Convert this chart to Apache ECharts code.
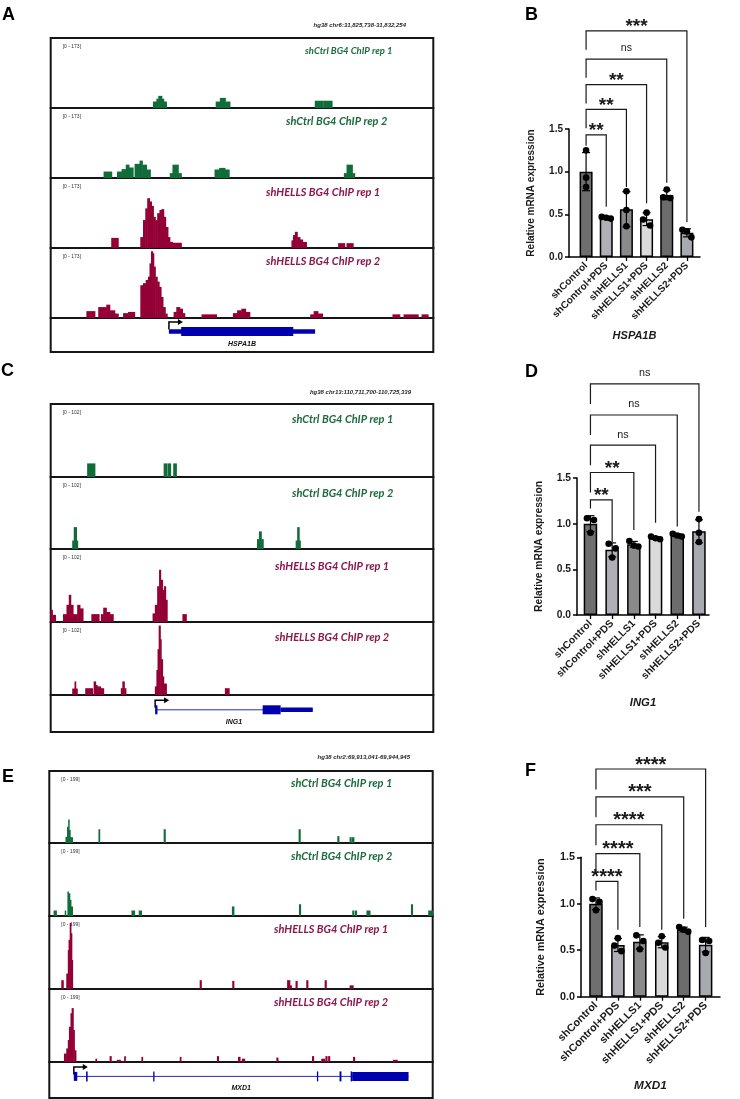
<!DOCTYPE html>
<html>
<head>
<meta charset="utf-8">
<script src="https://cdn.jsdelivr.net/npm/echarts@6/dist/echarts.min.js"></script>
<style>
html, body { margin: 0; padding: 0; background: #fff; }
#chart { width: 740px; height: 1099px; }
</style>
</head>
<body>
<div id="chart"></div>
<script>
// ---------- qPCR bar charts (B, D, F) ----------
const conditions = ['shControl', 'shControl+PDS', 'shHELLS1', 'shHELLS1+PDS', 'shHELLS2', 'shHELLS2+PDS'];
const yTicks = [0, 0.5, 1.0, 1.5];

// replicate values, one list per condition
const hspa1bReps = [[1.25, 0.93, 0.82], [0.47, 0.46, 0.45], [0.77, 0.55, 0.36], [0.52, 0.44, 0.37], [0.79, 0.70, 0.69], [0.32, 0.30, 0.23]];
const ing1Reps = [[1.06, 1.04, 0.90], [0.78, 0.73, 0.63], [0.81, 0.76, 0.75], [0.86, 0.84, 0.83], [0.89, 0.87, 0.86], [1.05, 0.90, 0.80]];
const mxd1Reps = [[1.05, 1.02, 0.93], [0.63, 0.55, 0.49], [0.66, 0.60, 0.51], [0.65, 0.58, 0.53], [0.75, 0.72, 0.70], [0.61, 0.60, 0.47]];

// shControl vs each other condition
const hspa1bSig = ['**', '**', '**', 'ns', '***'];
const ing1Sig = ['**', '**', 'ns', 'ns', 'ns'];
const mxd1Sig = ['****', '****', '****', '***', '****'];

// bracket heights and right-leg ends (in y units)
const hspa1bBracketY = [1.43, 1.73, 2.02, 2.32, 2.65];
const hspa1bBracketEnd = [0.59, 0.82, 0.63, 0.87, 0.41];
const ing1BracketY = [1.26, 1.56, 1.86, 2.19, 2.53];
const ing1BracketEnd = [0.80, 0.93, 1.01, 0.97, 1.13];
const mxd1BracketY = [1.24, 1.54, 1.85, 2.15, 2.45];
const mxd1BracketEnd = [0.72, 0.75, 0.72, 0.84, 0.75];

// ---------- BG4 ChIP coverage tracks (A, C, E) ----------
// each segment: [start %, end %, signal]
const hspa1bCtrl1 = [[26.8,27.7,16],[27.7,28.2,23],[28.2,29.1,30],[29.1,29.6,23],[29.6,30.3,16],
  [43.2,44.3,16],[44.3,45.7,25],[45.7,46.9,16],[69.1,71.3,18],[71.4,73.6,18]];
const hspa1bCtrl2 = [[13.9,16.0,16],[17.4,18.6,16],[18.6,19.7,22],[19.7,20.5,33],[20.5,21.6,26],
  [22.0,23.3,35],[23.3,24.0,43],[24.0,25.1,33],[25.1,26.1,21],[31.2,31.9,12],[31.9,33.4,33],[33.4,34.2,12],
  [42.9,44.1,21],[44.1,45.6,25],[45.6,46.7,21],[76.7,77.4,12],[77.4,78.9,33],[78.9,79.5,12]];
const hspa1bHells1 = [[15.9,17.7,25],
  [23.5,24.2,27],[24.2,24.8,69],[24.8,25.3,98],[25.3,25.9,123],[25.9,26.4,115],[26.4,26.9,104],
  [26.9,27.4,77],[27.4,27.9,69],[27.9,28.5,86],[28.5,29.0,94],[29.0,29.6,96],[29.6,30.1,77],
  [30.1,30.7,52],[30.7,31.2,27],[31.2,31.9,15],[31.9,34.2,13],
  [63.0,63.4,19],[63.4,63.9,32],[63.9,64.5,40],[64.5,65.2,27],[65.2,65.9,21],[65.9,66.9,15],
  [75.2,76.9,12],[77.4,79.1,12]];
const hspa1bHells2 = [[9.4,11.6,17],[12.5,14.6,27],[14.6,15.5,33],[15.5,16.8,19],[16.8,17.7,11],
  [19.0,20.3,12],[20.3,22.0,15],
  [23.5,24.2,81],[24.2,24.9,86],[24.9,25.5,94],[25.5,25.9,102],[25.9,26.3,135],[26.3,26.7,165],
  [26.7,27.0,160],[27.0,27.4,127],[27.4,27.9,102],[27.9,28.4,90],[28.4,28.9,77],[28.9,29.4,52],
  [29.4,30.0,27],[30.0,30.5,11],
  [32.2,32.9,15],[32.9,33.8,27],[33.8,34.5,23],[34.5,35.1,12],[39.5,43.4,9],
  [47.7,48.8,12],[48.8,49.9,19],[49.9,51.0,23],[51.0,52.1,15],
  [67.9,68.8,9],[68.8,69.9,17],[69.9,71.1,11],[89.4,91.3,9],[92.3,96.1,9],[97.0,98.7,9]];

const ing1Ctrl1 = [[9.6,10.5,19],[10.6,11.6,19],[29.6,30.4,19],[30.6,31.4,19],[32.1,32.9,19]];
const ing1Ctrl2 = [[5.7,6.1,12],[6.1,6.8,31],[6.8,7.1,12],[54.0,54.5,14],[54.5,55.1,25],[55.1,55.6,14],
  [64.1,64.5,12],[64.5,65.0,31],[65.0,65.3,12]];
const ing1Hells1 = [[0.0,0.5,17],[0.5,1.3,10],[3.3,4.2,11],[4.2,4.8,24],[4.8,5.3,38],[5.3,5.9,24],
  [5.9,7.0,11],[7.0,7.7,24],[7.7,8.5,19],[10.7,12.7,11],[13.2,13.8,11],[13.8,14.6,20],[14.6,15.5,14],
  [15.5,16.4,11],[26.7,27.3,12],[27.3,27.9,24],[27.9,28.4,50],[28.4,28.8,73],[28.8,29.3,59],
  [29.3,29.7,45],[29.7,30.1,50],[30.1,30.5,31],[34.5,35.5,11]];
const ing1Hells2 = [[5.7,6.3,9],[6.3,6.6,19],[6.6,7.0,9],[9.1,11.0,9.5],[11.3,11.8,19],[11.8,12.2,14],
  [12.2,13.1,12],[13.1,13.9,9.5],[18.4,18.8,9.5],[18.8,19.3,19],[19.3,19.7,9.5],
  [27.3,27.7,12],[27.7,28.0,35],[28.0,28.3,64],[28.3,28.7,97],[28.7,28.9,78],[28.9,29.3,50],
  [29.3,29.6,26],[29.6,30.3,16],[45.6,46.7,9.5]];

const mxd1Ctrl1 = [[4.3,4.7,17],[4.7,5.0,45],[5.0,5.2,65],[5.2,5.5,36],[5.5,6.1,16],[12.9,13.2,38],
  [29.9,30.3,38],[65.1,65.5,38],[75.2,75.6,19],[78.4,78.8,16],[79.0,79.5,16]];
const mxd1Ctrl2 = [[1.2,1.9,15],[4.1,4.3,15],[4.8,5.0,67],[5.0,5.4,62],[5.4,5.7,44],[5.7,6.1,26],
  [21.5,22.3,15],[23.4,24.1,15],[47.7,48.2,26],[65.2,65.6,32],[79.1,79.5,15],[79.8,80.2,15],
  [82.8,83.7,15],[94.4,94.8,32],[98.9,100,15]];
const mxd1Hells1 = [[3.2,3.7,24],[4.5,4.9,42],[4.9,5.1,106],[5.1,5.4,134],[5.4,5.7,180],[5.7,5.9,152],
  [5.9,6.1,79],[39.3,39.7,24],[47.8,48.2,22],[62.1,62.8,24],[62.8,63.2,10],[64.3,64.7,22],
  [67.1,67.5,24],[71.9,72.3,24],[78.4,79.3,10]];
const mxd1Hells2 = [[3.9,4.5,23],[4.5,4.9,37],[4.9,5.2,60],[5.2,5.6,96],[5.6,5.9,133],[5.9,6.3,147],
  [6.3,6.6,87],[6.6,7.0,32],[12.1,12.4,9],[15.8,16.2,16],[17.7,18.6,6],[19.6,19.9,16],[24.1,24.4,14],
  [34.1,34.4,14],[43.8,44.2,16],[49.3,49.8,14],[50.3,51.0,9],[59.3,59.7,12],[68.6,69.0,16],
  [71.0,71.9,9],[72.1,72.5,16],[72.8,73.2,16],[79.3,79.7,14],[89.7,90.8,6]];

const trackNames = ['shCtrl BG4 ChIP rep 1', 'shCtrl BG4 ChIP rep 2', 'shHELLS BG4 ChIP rep 1', 'shHELLS BG4 ChIP rep 2'];

// gene models: [start %, end %, kind]  kind 1 = UTR, 2 = coding, 3 = narrow exon
const hspa1bExons = [[30.9, 69.1, 1], [34.1, 63.4, 2]];
const ing1Exons = [[27.3, 27.9, 2], [55.4, 60.1, 2], [60.1, 68.5, 1]];
const mxd1Exons = [[6.4, 7.3, 2], [9.6, 10.0, 3], [27.1, 27.4, 3], [69.8, 70.1, 3], [75.7, 76.2, 3], [78.6, 79.0, 3], [79.0, 93.7, 2]];

const SANS = 'Liberation Sans, Arial, sans-serif';
const GREEN = '#106c39', MAROON = '#930035';
const GREEN_TXT = '#1d6b3f', MAROON_TXT = '#8d174a';
const BAR_COLORS = ['#6f6f6f', '#afafb5', '#8a8a8a', '#dadada', '#6c6c6c', '#a9a9b0'];
const GENE_BLUE = '#0000b0';

const grid = [], xAxis = [], yAxis = [], series = [], graphic = [];

function addGrid(g, xa, ya) {
    g.outerBoundsMode = 'none';
    grid.push(g);
    const gi = grid.length - 1;
    xa.gridIndex = gi;
    ya.gridIndex = gi;
    xAxis.push(xa);
    yAxis.push(ya);
    return gi;
}

function text(x, y, str, font, fill, align) {
    graphic.push({
        type: 'text', silent: true,
        style: { text: str, x: x, y: y, font: font, fill: fill,
            align: align || 'left', textAlign: align || 'left', verticalAlign: 'middle', textVerticalAlign: 'middle' }
    });
}

// ---------- genome browser panel ----------
function addTrackPanel(p) {
    const tracks = [p.ctrl1, p.ctrl2, p.hells1, p.hells2];
    for (let t = 0; t < 4; t++) {
        const top = p.tops[t];
        const gi = addGrid(
            { left: p.left, top: top, width: p.width, height: p.tops[t + 1] - top, show: true, borderColor: '#151515', borderWidth: 2, backgroundColor: 'transparent' },
            { type: 'value', min: 0, max: 100, show: false },
            { type: 'value', min: 0, max: p.range, show: false });
        const color = t < 2 ? GREEN : MAROON;
        series.push({
            type: 'custom', xAxisIndex: gi, yAxisIndex: gi, silent: true,
            data: tracks[t], encode: { x: [0, 1], y: 2 },
            renderItem: (params, api) => {
                const a = api.coord([api.value(0), api.value(2)]);
                const b = api.coord([api.value(1), 0]);
                // widen a little so neighbouring bins join without seams
                return { type: 'rect', shape: { x: a[0] - 0.3, y: a[1], width: Math.max(b[0] - a[0] + 0.6, 1.5), height: b[1] - a[1] },
                    style: { fill: color } };
            }
        });
        text(p.left + 12, top + 9, '[0 - ' + p.range + ']', '5px ' + SANS, '#333');
        const lab = p.labels[t];
        text(lab[0], lab[1], trackNames[t], 'italic bold ' + lab[2] + 'px Lato, sans-serif', t < 2 ? GREEN_TXT : MAROON_TXT);
    }
    // gene track
    const gTop = p.tops[4];
    const gg = addGrid(
        { left: p.left, top: gTop, width: p.width, height: p.tops[5] - gTop, show: true, borderColor: '#151515', borderWidth: 2, backgroundColor: 'transparent' },
        { type: 'value', min: 0, max: 100, show: false },
        { type: 'value', min: 0, max: 1, show: false });
    const exons = p.exons;
    const gStart = Math.min.apply(null, exons.map(e => e[0]));
    const gEnd = Math.max.apply(null, exons.map(e => e[1]));
    series.push({
        type: 'custom', xAxisIndex: gg, yAxisIndex: gg, silent: true, z: 3,
        data: [[gStart, gEnd]], encode: { x: [0, 1] },
        renderItem: (params, api) => {
            const s = api.coord([gStart, 0.6]), e = api.coord([gEnd, 0.6]);
            const yc = s[1], x = s[0];
            return { type: 'group', children: [
                { type: 'line', shape: { x1: s[0], y1: yc, x2: e[0], y2: yc }, style: { stroke: '#2a2ab8', lineWidth: 1 } },
                { type: 'polyline', shape: { points: [[x, yc - 2], [x, yc - 9.5], [x + 10, yc - 9.5]] }, style: { stroke: '#000', lineWidth: 1.5, fill: 'none' } },
                { type: 'polygon', shape: { points: [[x + 9, yc - 12.5], [x + 14, yc - 9.5], [x + 9, yc - 6.5]] }, style: { fill: '#000' } },
                { type: 'text', style: { text: p.gene, x: (s[0] + e[0]) / 2, y: yc + 12, font: 'italic bold 7px ' + SANS, fill: '#111',
                    align: 'center', textAlign: 'center', verticalAlign: 'middle', textVerticalAlign: 'middle' } }
            ] };
        }
    });
    series.push({
        type: 'custom', xAxisIndex: gg, yAxisIndex: gg, silent: true, z: 4,
        data: exons, encode: { x: [0, 1] },
        renderItem: (params, api) => {
            const kind = api.value(2);
            const h = kind === 1 ? 4.5 : (kind === 2 ? 9 : 10);
            const a = api.coord([api.value(0), 0.6]);
            const b = api.coord([api.value(1), 0.6]);
            return { type: 'rect', shape: { x: a[0], y: a[1] - h / 2, width: Math.max(b[0] - a[0], 1.3), height: h }, style: { fill: GENE_BLUE } };
        }
    });
    text(p.headerX, p.headerY, p.header, 'italic bold 6px ' + SANS, '#222', 'right');
    text(p.letter[0], p.letter[1], p.letter[2], 'bold 18px ' + SANS, '#000');
}

// ---------- bar chart panel ----------
function addBarPanel(p) {
    const means = p.reps.map(r => r.reduce((a, b) => a + b, 0) / r.length);
    const sds = p.reps.map((r, i) => Math.sqrt(r.reduce((a, v) => a + (v - means[i]) * (v - means[i]), 0) / (r.length - 1)));
    const fs = p.fs;
    const lab = { fontFamily: SANS, fontWeight: 'bold', color: '#1a1a1a' };
    addGrid(
        { left: p.left, top: p.top, width: p.width, height: p.height },
        { type: 'value', min: 0, max: 1, axisLine: { show: true, onZero: false, lineStyle: { color: '#000', width: 1.5 } },
          axisTick: { show: false }, axisLabel: { show: false }, splitLine: { show: false },
          name: p.gene, nameLocation: 'middle', nameGap: p.nameGap, nameMoveOverlap: false,
          nameTextStyle: Object.assign({}, lab, { fontStyle: 'italic', fontSize: fs + 1 }) },
        { type: 'value', min: yTicks[0], max: yTicks[yTicks.length - 1], interval: yTicks[1] - yTicks[0],
          axisLine: { show: true, lineStyle: { color: '#000', width: 1.5 } },
          axisTick: { show: true, length: 4, lineStyle: { color: '#000', width: 1.5 } },
          axisLabel: Object.assign({}, lab, { formatter: v => v.toFixed(1), margin: 6, fontSize: fs }),
          splitLine: { show: false },
          name: 'Relative mRNA expression', nameLocation: 'middle', nameRotate: 90, nameGap: p.yNameGap, nameMoveOverlap: false,
          nameTextStyle: Object.assign({}, lab, { fontSize: fs }) });
    const dg = addGrid(
        { left: p.dataLeft, top: p.top, width: p.dataWidth, height: p.height },
        { type: 'category', data: conditions, axisLine: { show: false },
          axisTick: { show: true, alignWithLabel: true, length: 4, lineStyle: { color: '#000', width: 1.3 } },
          axisLabel: Object.assign({}, lab, { interval: 0, rotate: 45, margin: 7, fontSize: fs }) },
        { type: 'value', min: 0, max: 1.5, show: false });

    series.push({
        type: 'bar', xAxisIndex: dg, yAxisIndex: dg, barWidth: p.barWidth, silent: true, z: 2,
        itemStyle: { borderColor: '#000', borderWidth: 1.5 },
        data: means.map((m, i) => ({ value: m, itemStyle: { color: BAR_COLORS[i] } }))
    });
    // error bars (mean ± SD) and replicate dots
    series.push({
        type: 'custom', xAxisIndex: dg, yAxisIndex: dg, silent: true, z: 4,
        data: conditions.map((c, i) => [i]),
        renderItem: (params, api) => {
            const i = params.dataIndex;
            const hi = api.coord([i, means[i] + sds[i]]), lo = api.coord([i, means[i] - sds[i]]);
            const st = { stroke: '#000', lineWidth: 1.2 };
            const kids = [
                { type: 'line', shape: { x1: hi[0], y1: hi[1], x2: lo[0], y2: lo[1] }, style: st },
                { type: 'line', shape: { x1: hi[0] - 4, y1: hi[1], x2: hi[0] + 4, y2: hi[1] }, style: st },
                { type: 'line', shape: { x1: lo[0] - 4, y1: lo[1], x2: lo[0] + 4, y2: lo[1] }, style: st }
            ];
            const pts = p.reps[i].map(v => api.coord([i, v]));
            const order = pts.map((q, k) => k).sort((a, b) => pts[a][1] - pts[b][1]);
            const groups = [[order[0]]];
            for (let k = 1; k < order.length; k++) {
                const g = groups[groups.length - 1];
                if (pts[order[k]][1] - pts[g[g.length - 1]][1] < 6) g.push(order[k]);
                else groups.push([order[k]]);
            }
            groups.forEach(g => {
                const step = g.length === 2 ? 7 : 4.5;
                g.forEach((k, j) => {
                    const dx = (j - (g.length - 1) / 2) * step;
                    kids.push({ type: 'circle', shape: { cx: pts[k][0] + dx, cy: pts[k][1], r: 3.3 }, style: { fill: '#000' } });
                });
            });
            return { type: 'group', children: kids };
        }
    });
    // significance brackets
    series.push({
        type: 'custom', xAxisIndex: dg, yAxisIndex: dg, silent: true, clip: false, z: 5,
        data: p.sig.map((s, k) => [k + 1]),
        renderItem: (params, api) => {
            const k = params.dataIndex;
            const level = p.bracketY[k];
            const leftEnd = Math.max(level - 0.22, means[0] + sds[0] + 0.08);
            const a = api.coord([0, leftEnd]), b = api.coord([0, level]);
            const c = api.coord([k + 1, level]), d = api.coord([k + 1, p.bracketEnd[k]]);
            const ns = p.sig[k] === 'ns';
            return { type: 'group', children: [
                { type: 'polyline', shape: { points: [a, b, c, d] }, style: { stroke: '#1a1a1a', lineWidth: 1.2, fill: 'none' } },
                { type: 'text', style: { text: p.sig[k], x: (b[0] + c[0]) / 2, y: b[1] + (ns ? -10.5 : -4),
                    font: ns ? (fs + 0.5) + 'px ' + SANS : 'bold ' + p.starSize + 'px ' + SANS, fill: '#1a1a1a',
                    align: 'center', textAlign: 'center', verticalAlign: 'middle', textVerticalAlign: 'middle' } }
            ] };
        }
    });
    text(p.letter[0], p.letter[1], p.letter[2], 'bold 18px ' + SANS, '#000');
}

addTrackPanel({ left: 50.7, width: 382.6, tops: [38, 108, 178, 248, 318, 352], range: 173,
    ctrl1: hspa1bCtrl1, ctrl2: hspa1bCtrl2, hells1: hspa1bHells1, hells2: hspa1bHells2,
    labels: [[305, 50.5, 9.5], [286, 121.5, 11], [266, 192, 11], [266, 261, 11]],
    exons: hspa1bExons, gene: 'HSPA1B',
    header: 'hg38 chr6:31,825,738-31,832,254', headerX: 406, headerY: 25, letter: [2, 15, 'A'] });
addTrackPanel({ left: 50.7, width: 382.6, tops: [404, 477, 549, 622, 695, 732], range: 102,
    ctrl1: ing1Ctrl1, ctrl2: ing1Ctrl2, hells1: ing1Hells1, hells2: ing1Hells2,
    labels: [[292, 419, 11], [292, 493, 11], [275, 566, 11], [275, 637.5, 11]],
    exons: ing1Exons, gene: 'ING1',
    header: 'hg38 chr13:110,711,700-110,725,339', headerX: 411, headerY: 392, letter: [1, 371, 'C'] });
addTrackPanel({ left: 49.3, width: 383.4, tops: [771, 843, 916, 989, 1062, 1098], range: 199,
    ctrl1: mxd1Ctrl1, ctrl2: mxd1Ctrl2, hells1: mxd1Hells1, hells2: mxd1Hells2,
    labels: [[291, 783.5, 11], [291, 856, 11], [274, 929.5, 11], [274, 1002.5, 11]],
    exons: mxd1Exons, gene: 'MXD1',
    header: 'hg38 chr2:69,913,041-69,944,945', headerX: 410, headerY: 757.7, letter: [2, 777, 'E'] });

addBarPanel({ left: 569, top: 129, width: 131, height: 128, dataLeft: 576, dataWidth: 121, barWidth: 13,
    fs: 10, starSize: 19, nameGap: 73, yNameGap: 33, gene: 'HSPA1B',
    reps: hspa1bReps, sig: hspa1bSig, bracketY: hspa1bBracketY, bracketEnd: hspa1bBracketEnd, letter: [525, 15, 'B'] });
addBarPanel({ left: 577, top: 478, width: 132, height: 137, dataLeft: 579.6, dataWidth: 130.2, barWidth: 13.5,
    fs: 10.3, starSize: 19, nameGap: 82, yNameGap: 33, gene: 'ING1',
    reps: ing1Reps, sig: ing1Sig, bracketY: ing1BracketY, bracketEnd: ing1BracketEnd, letter: [525, 372, 'D'] });
addBarPanel({ left: 581, top: 857.3, width: 139, height: 139.4, dataLeft: 585, dataWidth: 131.6, barWidth: 13.5,
    fs: 10.8, starSize: 20, nameGap: 83, yNameGap: 34, gene: 'MXD1',
    reps: mxd1Reps, sig: mxd1Sig, bracketY: mxd1BracketY, bracketEnd: mxd1BracketEnd, letter: [525, 771, 'F'] });

const chart = echarts.init(document.getElementById('chart'));
chart.setOption({
    animation: false,
    backgroundColor: '#fff',
    textStyle: { fontFamily: SANS },
    grid: grid,
    xAxis: xAxis,
    yAxis: yAxis,
    series: series,
    graphic: graphic
});
</script>
</body>
</html>
